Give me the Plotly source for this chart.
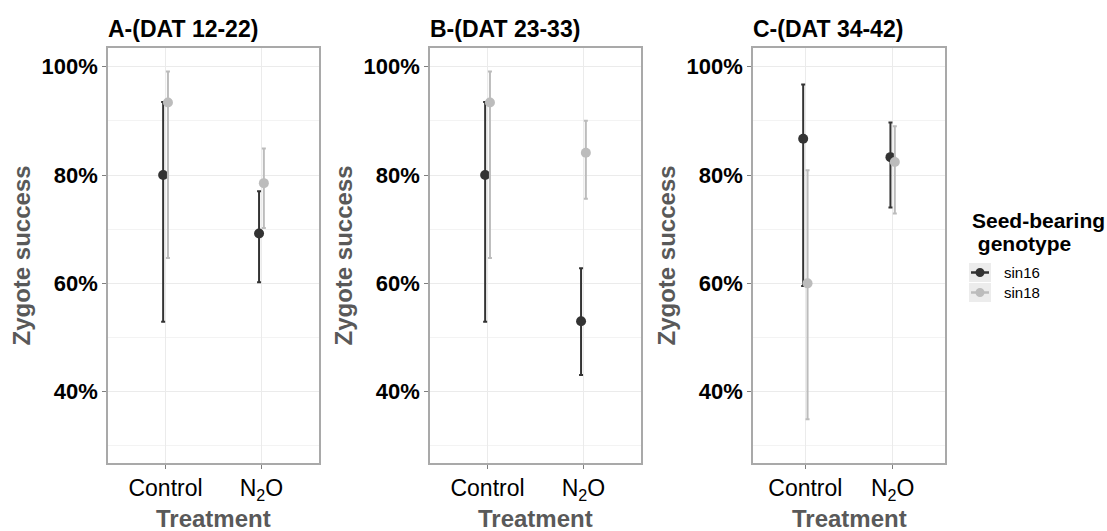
import plotly.graph_objects as go

# ---- data: zygote success (%) with confidence limits, per period ----
treatments = ["Control", "N<sub>2</sub>O"]
genotypes = ["sin16", "sin18"]
panel_titles = ["A-(DAT 12-22)", "B-(DAT 23-33)", "C-(DAT 34-42)"]

sin16_mean = [[80.0, 69.2], [80.0, 53.0], [86.7, 83.3]]
sin16_low = [[52.9, 60.2], [52.9, 43.1], [59.5, 74.0]]
sin16_high = [[93.5, 77.0], [93.5, 62.8], [96.7, 89.7]]

sin18_mean = [[93.4, 78.5], [93.4, 84.1], [60.0, 82.4]]
sin18_low = [[64.7, 70.2], [64.7, 75.6], [34.9, 72.9]]
sin18_high = [[99.1, 84.9], [99.1, 90.0], [80.9, 89.0]]

y_ticks = [40, 60, 80, 100]
y_minor = [30, 50, 70, 90]

# ---- styling ----
W, H = 1107, 531
FONT = "Liberation Sans, Arial, Helvetica, sans-serif"
COLORS = {"sin16": "#333333", "sin18": "#bcbcbc"}
DODGE = 0.025
Y_RANGE = [26.84, 103.45]
GRID = "#ebebeb"
BORDER = "#a9a9a9"

# panel boxes in pixels (left, right); shared top/bottom
panels_px = [(108, 319), (430, 641), (753, 945)]
top_px, bottom_px = 48, 463


def px_x(v):
    return v / W


def px_y(v):
    return 1 - v / H


fig = go.Figure()
series = [
    ("sin16", sin16_mean, sin16_low, sin16_high, -DODGE),
    ("sin18", sin18_mean, sin18_low, sin18_high, DODGE),
]

for p in range(3):
    suffix = "" if p == 0 else str(p + 1)
    for name, mean, low, high, off in series:
        m = mean[p]
        fig.add_trace(go.Scatter(
            x=[i + 1 + off for i in range(len(treatments))],
            y=m,
            mode="markers",
            name=name,
            showlegend=False,
            marker=dict(color=COLORS[name], size=10),
            error_y=dict(
                type="data",
                symmetric=False,
                array=[h - v for h, v in zip(high[p], m)],
                arrayminus=[v - lo for v, lo in zip(m, low[p])],
                color=COLORS[name],
                thickness=2,
                width=2,
            ),
            xaxis="x" + suffix,
            yaxis="y" + suffix,
        ))

layout = dict(
    width=W, height=H,
    margin=dict(l=0, r=0, t=0, b=0),
    paper_bgcolor="white",
    plot_bgcolor="white",
    showlegend=False,
    font=dict(family=FONT, color="black"),
)

for p, (left, right) in enumerate(panels_px):
    suffix = "" if p == 0 else str(p + 1)
    layout["xaxis" + suffix] = dict(
        domain=[px_x(left), px_x(right)],
        anchor="y" + suffix,
        range=[0.4, 2.6],
        tickmode="array",
        tickvals=[1, 2],
        ticktext=treatments,
        tickfont=dict(size=23, color="black", family=FONT),
        ticks="outside", ticklen=4, tickcolor="#7f7f7f",
        showgrid=True, gridcolor=GRID, gridwidth=1,
        showline=True, mirror=True, linecolor=BORDER, linewidth=1.5,
        zeroline=False, fixedrange=True,
    )
    layout["yaxis" + suffix] = dict(
        domain=[px_y(bottom_px), px_y(top_px)],
        anchor="x" + suffix,
        range=Y_RANGE,
        tickmode="array",
        tickvals=y_ticks,
        ticktext=[f"{v}%" for v in y_ticks],
        tickfont=dict(size=22, color="black", family=FONT, weight="bold"),
        ticks="outside", ticklen=4, tickcolor="#7f7f7f",
        showgrid=True, gridcolor=GRID, gridwidth=1,
        minor=dict(tickmode="array", tickvals=y_minor, showgrid=True,
                   gridcolor="#f3f3f3", gridwidth=1, ticks=""),
        showline=True, mirror=True, linecolor=BORDER, linewidth=1.5,
        zeroline=False, fixedrange=True,
    )

fig.update_layout(**layout)

annotations = []
for p, (left, right) in enumerate(panels_px):
    # panel title
    annotations.append(dict(
        text=f"<b>{panel_titles[p]}</b>", xref="paper", yref="paper",
        x=px_x(left - 2), y=px_y(28.5), xanchor="left", yanchor="middle",
        showarrow=False, font=dict(size=23, color="black", family=FONT),
    ))
    # x axis title
    annotations.append(dict(
        text="<b>Treatment</b>", xref="paper", yref="paper",
        x=px_x((left + right) / 2), y=px_y(518.5), xanchor="center",
        yanchor="middle", showarrow=False, borderpad=0,
        font=dict(size=24, color="#595959", family=FONT),
    ))
    # y axis title
    annotations.append(dict(
        text="<b>Zygote success</b>", xref="paper", yref="paper",
        x=px_x(left - 87), y=px_y((top_px + bottom_px) / 2),
        xanchor="center", yanchor="middle", textangle=-90, showarrow=False,
        font=dict(size=24, color="#595959", family=FONT),
    ))

# legend
leg_left = 969
annotations.append(dict(
    text="<b>Seed-bearing</b>", xref="paper", yref="paper",
    x=px_x(leg_left + 2), y=px_y(220), xanchor="left", yanchor="middle",
    showarrow=False, borderpad=0, font=dict(size=21, color="black", family=FONT),
))
annotations.append(dict(
    text="<b> genotype</b>", xref="paper", yref="paper",
    x=px_x(leg_left + 2), y=px_y(243), xanchor="left", yanchor="middle",
    showarrow=False, borderpad=0, font=dict(size=21, color="black", family=FONT),
))

shapes = []
key_rows = [(263, 282), (283, 302)]
for (y0, y1), name in zip(key_rows, genotypes):
    cy = (y0 + y1) / 2
    shapes.append(dict(type="rect", xref="paper", yref="paper",
                       x0=px_x(leg_left), x1=px_x(leg_left + 22),
                       y0=px_y(y1), y1=px_y(y0),
                       fillcolor="#ececec", line=dict(width=0), layer="above"))
    shapes.append(dict(type="line", xref="paper", yref="paper",
                       x0=px_x(leg_left + 2), x1=px_x(leg_left + 20),
                       y0=px_y(cy), y1=px_y(cy),
                       line=dict(color=COLORS[name], width=2.5), layer="above"))
    shapes.append(dict(type="circle", xref="paper", yref="paper",
                       x0=px_x(leg_left + 11 - 4.5), x1=px_x(leg_left + 11 + 4.5),
                       y0=px_y(cy + 4.5), y1=px_y(cy - 4.5),
                       fillcolor=COLORS[name], line=dict(width=0), layer="above"))
    annotations.append(dict(
        text=name, xref="paper", yref="paper",
        x=px_x(leg_left + 33), y=px_y(cy), xanchor="left", yanchor="middle",
        showarrow=False, font=dict(size=15, color="black", family=FONT),
    ))

fig.update_layout(annotations=annotations, shapes=shapes)

fig.write_html("out.html", config={"displayModeBar": False})
